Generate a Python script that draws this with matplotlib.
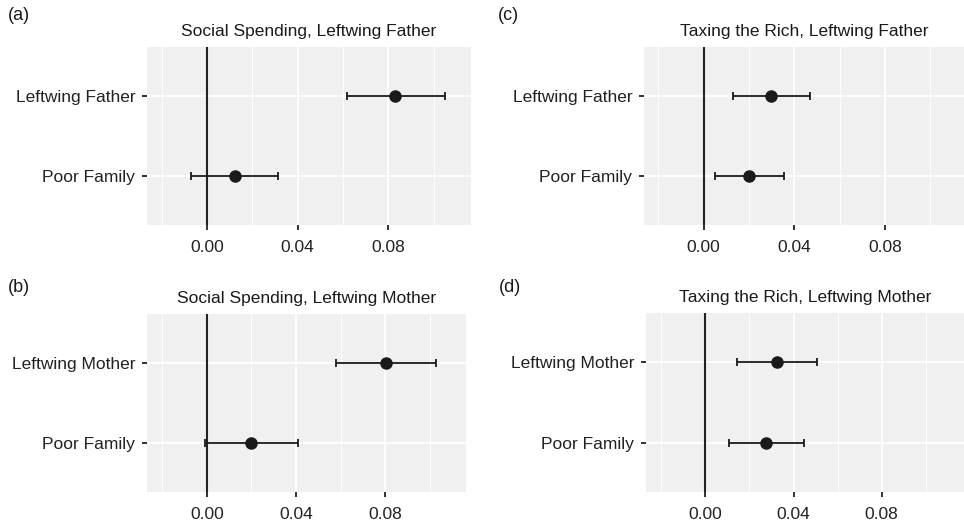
import numpy as np
import matplotlib.pyplot as plt
from matplotlib.ticker import MultipleLocator

plt.rcParams['font.family'] = ['Liberation Sans', 'DejaVu Sans']

# estimates (order: top row label, Poor Family)
labels_father = ["Leftwing Father", "Poor Family"]
labels_mother = ["Leftwing Mother", "Poor Family"]

ss_father_est = [0.0831, 0.0124]
ss_father_lo = [0.0617, -0.0071]
ss_father_hi = [0.1052, 0.0315]

ss_mother_est = [0.0804, 0.0200]
ss_mother_lo = [0.0580, -0.0010]
ss_mother_hi = [0.1028, 0.0408]

tr_father_est = [0.0297, 0.0202]
tr_father_lo = [0.0128, 0.0051]
tr_father_hi = [0.0468, 0.0354]

tr_mother_est = [0.0324, 0.0277]
tr_mother_lo = [0.0142, 0.0109]
tr_mother_hi = [0.0507, 0.0448]

W, H = 964, 526
fig = plt.figure(figsize=(W / 100, H / 100), dpi=100)

# tag, title, labels, data, pixel box (left, right, top, bottom), xlim, tag pos
panels = [
    ("(a)", "Social Spending, Leftwing Father", labels_father,
     ss_father_est, ss_father_lo, ss_father_hi, (147, 471, 47, 225),
     (-0.0265, 0.1165), (8, 15)),
    ("(b)", "Social Spending, Leftwing Mother", labels_mother,
     ss_mother_est, ss_mother_lo, ss_mother_hi, (147, 466, 314, 492),
     (-0.0268, 0.1162), (8, 288)),
    ("(c)", "Taxing the Rich, Leftwing Father", labels_father,
     tr_father_est, tr_father_lo, tr_father_hi, (644, 964, 47, 225),
     (-0.0264, 0.1150), (498, 15)),
    ("(d)", "Taxing the Rich, Leftwing Mother", labels_mother,
     tr_mother_est, tr_mother_lo, tr_mother_hi, (646, 964, 313, 492),
     (-0.0269, 0.1173), (499, 288)),
]

for tag, title, labs, est, lo, hi, (l, r, t, b), xlim, (tx, ty) in panels:
    ax = fig.add_axes([l / W, 1 - b / H, (r - l) / W, (b - t) / H])
    ax.set_facecolor("#F0F0F0")
    for s in ax.spines.values():
        s.set_visible(False)
    ax.set_xlim(*xlim)
    ax.set_ylim(2.6, 0.4)
    ax.xaxis.set_minor_locator(MultipleLocator(0.02))
    ax.set_xticks([0.0, 0.04, 0.08])
    ax.set_xticklabels(["0.00", "0.04", "0.08"])
    ax.set_yticks([1, 2])
    ax.set_yticklabels(labs)
    ax.grid(which="major", color="white", linewidth=1.3)
    ax.grid(which="minor", axis="x", color="white", linewidth=0.7)
    ax.set_axisbelow(True)
    ax.tick_params(which="major", length=3.5, width=1.3, color="#222222",
                   labelsize=12.5, labelcolor="#222222")
    ax.tick_params(axis="y", pad=5)
    ax.tick_params(axis="x", pad=7.5)
    ax.tick_params(which="minor", length=0)
    ax.axvline(0, color="#222222", linewidth=1.5, zorder=2)
    y = np.arange(1, len(est) + 1)
    est = np.array(est)
    xerr = [est - np.array(lo), np.array(hi) - est]
    ax.errorbar(est, y, xerr=xerr, fmt="o", color="#1a1a1a", markersize=8,
                elinewidth=1.3, capsize=3, capthick=1.3, zorder=3)
    ax.set_title(title, fontsize=12.5, color="#1a1a1a", pad=8)
    fig.text(tx / W, 1 - ty / H, tag, fontsize=13, color="#1a1a1a",
             va="center", ha="left")

fig.savefig("out.png", dpi=100)
